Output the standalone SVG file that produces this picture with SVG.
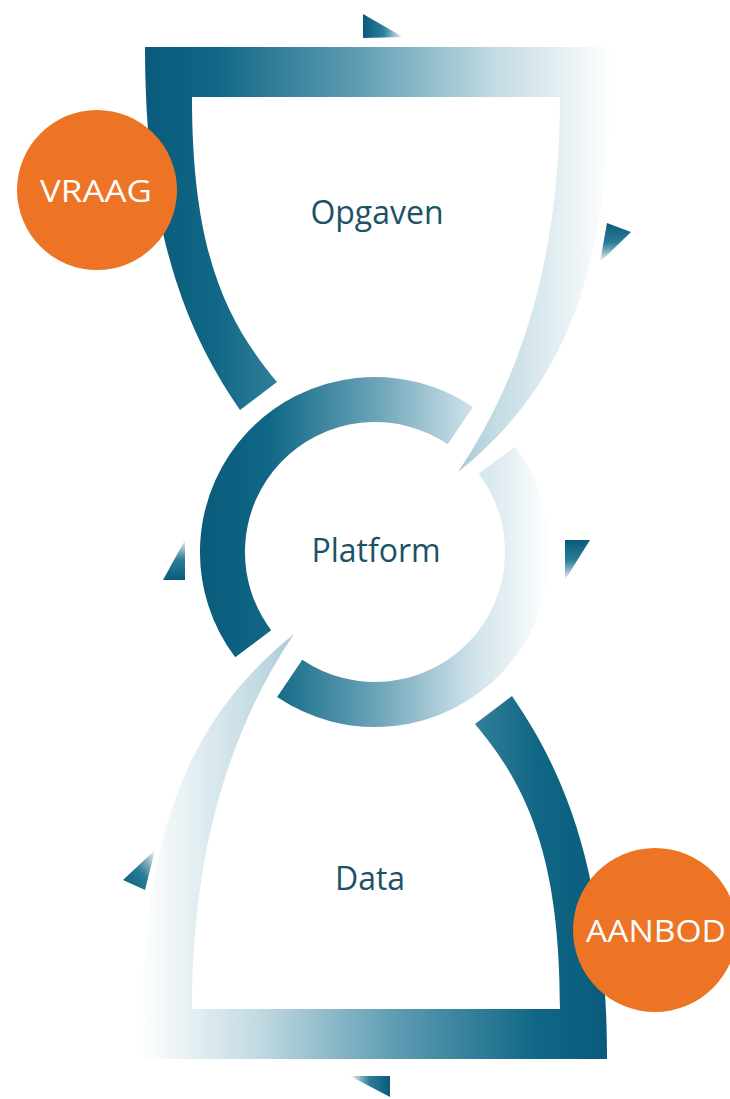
<svg xmlns="http://www.w3.org/2000/svg" width="730" height="1099" viewBox="0 0 730 1099">
  <defs>
    <style>
      .lbl { font-family: "Open Sans", "Liberation Sans", sans-serif; fill: #1c5266; font-size: 32px; text-anchor: middle; }
      .tag { font-family: "Open Sans", "Liberation Sans", sans-serif; fill: #ffffff; font-size: 31px; text-anchor: middle; }
      .orange { fill: #ec7424; }
    </style>
    <linearGradient id="shapeGrad" gradientUnits="userSpaceOnUse" x1="145" y1="0" x2="612" y2="0">
      <stop offset="0" stop-color="#0a5b7b"/>
      <stop offset="0.15" stop-color="#106785"/>
      <stop offset="0.45" stop-color="#5d9bb2"/>
      <stop offset="0.75" stop-color="#c3dbe3"/>
      <stop offset="1" stop-color="#ffffff"/>
    </linearGradient>
    <linearGradient id="ringGrad" gradientUnits="userSpaceOnUse" x1="200" y1="0" x2="550" y2="0">
      <stop offset="0" stop-color="#0a5b7b"/>
      <stop offset="0.2" stop-color="#106785"/>
      <stop offset="0.5" stop-color="#6aa3b8"/>
      <stop offset="0.78" stop-color="#d0e3ea"/>
      <stop offset="1" stop-color="#ffffff"/>
    </linearGradient>
    <linearGradient id="gL2R" x1="0" y1="0" x2="1" y2="0">
      <stop offset="0" stop-color="#0a5b7b"/>
      <stop offset="0.5" stop-color="#2a7d99"/>
      <stop offset="1" stop-color="#0a5b7b" stop-opacity="0"/>
    </linearGradient>
    <linearGradient id="gR2L" x1="1" y1="0" x2="0" y2="0">
      <stop offset="0" stop-color="#0a5b7b"/>
      <stop offset="0.5" stop-color="#2a7d99"/>
      <stop offset="1" stop-color="#0a5b7b" stop-opacity="0"/>
    </linearGradient>
    <linearGradient id="gT2B" x1="0" y1="0" x2="0" y2="1">
      <stop offset="0" stop-color="#0a5b7b"/>
      <stop offset="0.5" stop-color="#2a7d99"/>
      <stop offset="1" stop-color="#0a5b7b" stop-opacity="0"/>
    </linearGradient>
    <linearGradient id="gB2T" x1="0" y1="1" x2="0" y2="0">
      <stop offset="0" stop-color="#0a5b7b"/>
      <stop offset="0.5" stop-color="#2a7d99"/>
      <stop offset="1" stop-color="#0a5b7b" stop-opacity="0"/>
    </linearGradient>
    <linearGradient id="gBL2TR" x1="0" y1="1" x2="1" y2="0">
      <stop offset="0" stop-color="#0a5b7b"/>
      <stop offset="0.5" stop-color="#2a7d99"/>
      <stop offset="1" stop-color="#0a5b7b" stop-opacity="0"/>
    </linearGradient>
    <path id="funnel" d="M145,47 L612,47 C612,280 560,390 458,472 C520,380 560,260 560,97 L192,97 C192,250 225,320 277,382 L240,410 C185,330 145,230 145,47 Z"/>
  </defs>

  <g id="opgaven">
    <use href="#funnel" fill="url(#shapeGrad)"/>
    <text class="lbl" x="377" y="224">Opgaven</text>
  </g>

  <g id="data">
    <use href="#funnel" fill="url(#shapeGrad)" transform="rotate(180 376 553)"/>
    <text class="lbl" x="370" y="890">Data</text>
  </g>

  <g id="platform">
    <path d="M253.2,643.8 A152.5,152.5 0 0 1 460.3,425.6" fill="none" stroke="url(#ringGrad)" stroke-width="45"/>
    <path d="M496.8,460.2 A152.5,152.5 0 0 1 289.7,678.4" fill="none" stroke="url(#ringGrad)" stroke-width="45"/>
    <text class="lbl" x="376" y="562">Platform</text>
  </g>

  <g id="vraag">
    <circle class="orange" cx="97" cy="190" r="80"/>
    <text class="tag" x="96" y="202" textLength="112" lengthAdjust="spacingAndGlyphs">VRAAG</text>
  </g>

  <g id="aanbod">
    <circle class="orange" cx="655" cy="930" r="82"/>
    <text class="tag" x="656" y="942" textLength="140" lengthAdjust="spacingAndGlyphs">AANBOD</text>
  </g>

  <g id="connectors">
    <polygon points="363,14 363,38 403,37" fill="url(#gL2R)"/>
    <polygon points="607,223 631,232 600,262" fill="url(#gT2B)"/>
    <polygon points="185,540 163,580 185,580" fill="url(#gB2T)"/>
    <polygon points="565,540 590,540 565,580" fill="url(#gT2B)"/>
    <polygon points="155,850 123,880 145,890" fill="url(#gBL2TR)"/>
    <polygon points="350,1076 390,1076 390,1097" fill="url(#gR2L)"/>
  </g>
</svg>
